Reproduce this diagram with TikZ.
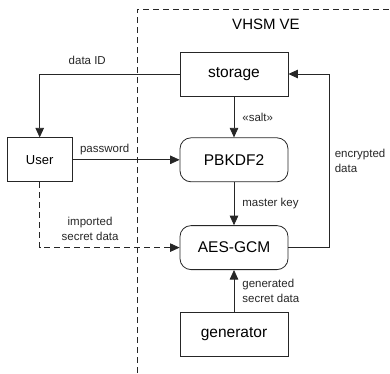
\documentclass[tikz,border=0pt]{standalone}
\usepackage{fontspec}
\setmainfont{Liberation Sans}
\usetikzlibrary{arrows.meta,positioning}

\begin{document}
\begin{tikzpicture}[
    block/.style={rectangle, draw=black!85, line width=0.8pt,
                 minimum width=108pt, minimum height=44pt,
                 font=\fontsize{15.5}{18}\selectfont},
    rblock/.style={block, rounded corners=11pt},
    arr/.style={-{Triangle[length=9.5pt,width=8.5pt]}, line width=0.8pt, black!85},
    lbl/.style={font=\fontsize{11.5}{14.5}\selectfont, align=left, inner sep=1pt},
    bound/.style={dash pattern=on 6pt off 4pt, line width=0.8pt, black!85},
  ]
    \useasboundingbox (0,0) rectangle (390pt,-373pt);

    % virtual environment border
    \draw[bound] (137pt,-373pt) -- (137pt,-9pt) -- (390pt,-9pt);
    \node[font=\fontsize{15}{18}\selectfont] (vhsm) at (266pt,-24pt) {VHSM VE};

    \node[block] (storage) at (234pt,-74pt) {storage};
    \node[rblock, below=41pt of storage] (pbkdf) {PBKDF2};
    \node[rblock, below=43pt of pbkdf]   (aes)   {AES-GCM};
    \node[block, below=42pt of aes]      (gen)   {generator};
    \node[block, minimum width=65pt, font=\fontsize{13}{15}\selectfont,
          left=107pt of pbkdf]           (user)  {User};

    \draw[arr] (storage.west) -| node[lbl, above=8pt, pos=0.33] {data ID} (user.north);
    \draw[arr] (user) -- node[lbl, above=3.5pt, pos=0.3] {password} (pbkdf);
    \draw[arr] (storage) -- node[lbl, right=7pt] {«salt»} (pbkdf);
    \draw[arr] (pbkdf) -- node[lbl, right=7pt] {master key} (aes);
    \draw[arr] (gen) -- node[lbl, right=7pt] {generated\\secret data} (aes);
    \draw[arr, dash pattern=on 6pt off 4pt] (user.south) |-
        node[lbl, align=center, above=6pt, pos=0.68] {imported\\secret data} (aes.west);
    \draw[arr] (aes.east) -- ++(41pt,0) |-
        node[lbl, right=4pt, pos=0.25] {encrypted\\data} (storage.east);
  \end{tikzpicture}
\end{document}
